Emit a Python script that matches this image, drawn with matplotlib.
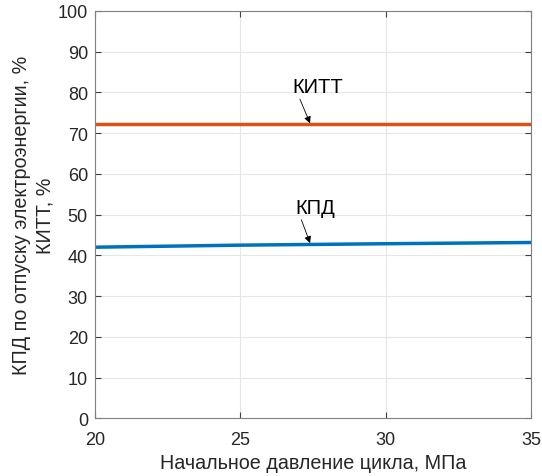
import numpy as np
import matplotlib.pyplot as plt

plt.rcParams['font.family'] = ['Liberation Sans', 'DejaVu Sans']

# data
pressure = [20, 25, 30, 35]
kitt = [72.2, 72.2, 72.2, 72.2]
kpd = [42.0, 42.5, 42.85, 43.15]

fig = plt.figure(figsize=(5.42, 4.77), dpi=100)
ax = fig.add_axes([0.175, 0.121, 0.805, 0.854])

ax.plot(pressure, kitt, color='#D95319', lw=2.5)
ax.plot(pressure, kpd, color='#0072BD', lw=2.5)

ax.set_xlim(20, 35)
ax.set_ylim(0, 100)
ax.set_xticks([20, 25, 30, 35])
ax.set_yticks(np.arange(0, 101, 10))
ax.grid(True, color='#e6e6e6', lw=0.8)
ax.set_axisbelow(True)
ax.tick_params(direction='in', top=True, right=True, labelsize=13,
               color='#404040', labelcolor='#262626', length=4)
ax.tick_params(axis='x', pad=9)
ax.tick_params(axis='y', pad=5)
for s in ax.spines.values():
    s.set_color('#808080')

ax.set_xlabel('Начальное давление цикла, МПа', fontsize=14.2, color='#262626',
              labelpad=3.5)
ax.set_ylabel('КПД по отпуску электроэнергии, %\nКИТТ, %', fontsize=14.2,
              color='#262626', linespacing=1.3, labelpad=2)

arrow = dict(arrowstyle='-|>', color='black', lw=0.6, mutation_scale=10,
             shrinkA=0, shrinkB=0, relpos=(0.12, 0.0))
ax.annotate('КИТТ', xy=(27.4, 72.4), xytext=(26.8, 80.0), fontsize=14.5,
            va='baseline', arrowprops=arrow)
ax.annotate('КПД', xy=(27.4, 43.0), xytext=(26.9, 50.4), fontsize=14.5,
            va='baseline', arrowprops=arrow)

fig.savefig('out.png', dpi=100)
